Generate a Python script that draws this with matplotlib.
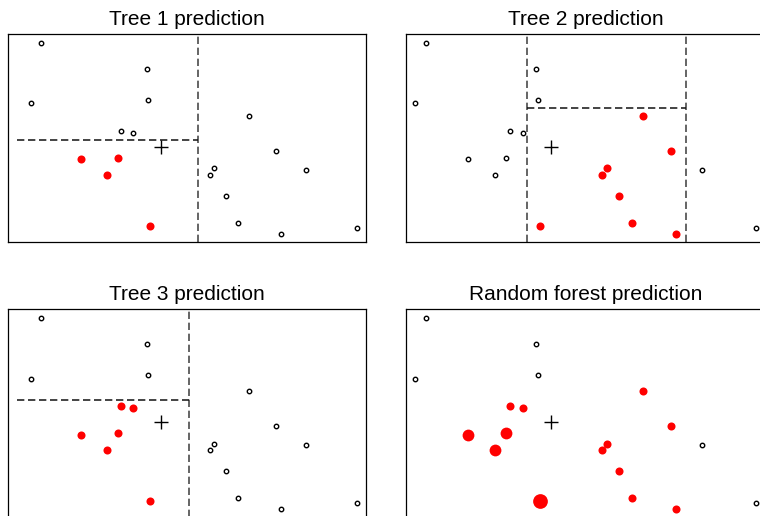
import numpy as np
import matplotlib
matplotlib.use("Agg")
import matplotlib.pyplot as plt

plt.rcParams['font.family'] = ['Liberation Sans', 'DejaVu Sans']

# training points (shared by every panel)
x = [0.91, 3.87, 0.63, 3.91, 6.73, 3.17, 3.50, 2.05, 3.06, 2.77,
     7.49, 8.32, 5.76, 5.64, 6.08, 6.43, 7.62, 9.76, 3.97]
y = [9.58, 8.32, 6.67, 6.83, 6.06, 5.35, 5.24, 3.98, 4.05, 3.22,
     4.38, 3.48, 3.54, 3.22, 2.21, 0.91, 0.40, 0.69, 0.78]

# 1 = the tree puts this point in the same leaf as the query point
tree1 = [0, 0, 0, 0, 0, 0, 0, 1, 1, 1, 0, 0, 0, 0, 0, 0, 0, 0, 1]
tree2 = [0, 0, 0, 0, 1, 0, 0, 0, 0, 0, 1, 0, 1, 1, 1, 1, 1, 0, 1]
tree3 = [0, 0, 0, 0, 0, 1, 1, 1, 1, 1, 0, 0, 0, 0, 0, 0, 0, 0, 1]

query = (4.27, 4.57)

# splits: full-height vertical cuts and partial horizontal cuts (y, x0, x1)
vsplits = [[5.30], [3.63, 7.87], [5.06]]
hsplits = [[(4.92, 0.24, 5.30)], [(6.43, 3.63, 7.87)], [(5.65, 0.24, 5.06)]]

titles = ["Tree 1 prediction", "Tree 2 prediction",
          "Tree 3 prediction", "Random forest prediction"]

W, H = 760, 516
fig = plt.figure(figsize=(W / 100, H / 100), dpi=100)

# panel boxes in pixels: left, right, top, bottom
boxes = [(8, 366, 34, 242), (406, 766, 34, 242),
         (8, 366, 309.3, 517.3), (406, 766, 309.3, 517.3)]
xlims = [(0, 10), (0.377, 10.025), (0, 10), (0.377, 10.025)]

dash = (0, (4.8, 2.4))
votes = np.array(tree1) + np.array(tree2) + np.array(tree3)
vote_size = {1: 5.8, 2: 8.5, 3: 10.6}


def open_point(ax, xi, yi):
    ax.plot(xi, yi, 'o', mfc='none', mec='black', ms=3.2, mew=1.0)


for k, (l, r, t, b) in enumerate(boxes):
    ax = fig.add_axes([l / W, 1 - b / H, (r - l) / W, (b - t) / H])
    ax.set_xlim(*xlims[k])
    ax.set_ylim(0, 10)
    ax.set_xticks([])
    ax.set_yticks([])
    for s in ax.spines.values():
        s.set_linewidth(0.9)

    if k < 3:
        inleaf = [tree1, tree2, tree3][k]
        for xv in vsplits[k]:
            ax.axvline(xv, color='#3a3a3a', lw=1.1, ls=dash)
        for yv, x0, x1 in hsplits[k]:
            ax.plot([x0, x1], [yv, yv], color='#111111', lw=1.1, ls=dash)
        for xi, yi, f in zip(x, y, inleaf):
            if f:
                ax.plot(xi, yi, 'o', color='red', ms=5.8, mew=0)
            else:
                open_point(ax, xi, yi)
    else:
        for xi, yi, v in zip(x, y, votes):
            if v > 0:
                ax.plot(xi, yi, 'o', color='red', ms=vote_size[v], mew=0)
            else:
                open_point(ax, xi, yi)

    ax.plot(*query, '+', color='black', ms=9.6, mew=1.0)

    fig.text(((l + r) / 2) / W, 1 - (t - 9) / H, titles[k],
             ha='center', va='baseline', fontsize=15)

fig.savefig("out.png", dpi=100)
